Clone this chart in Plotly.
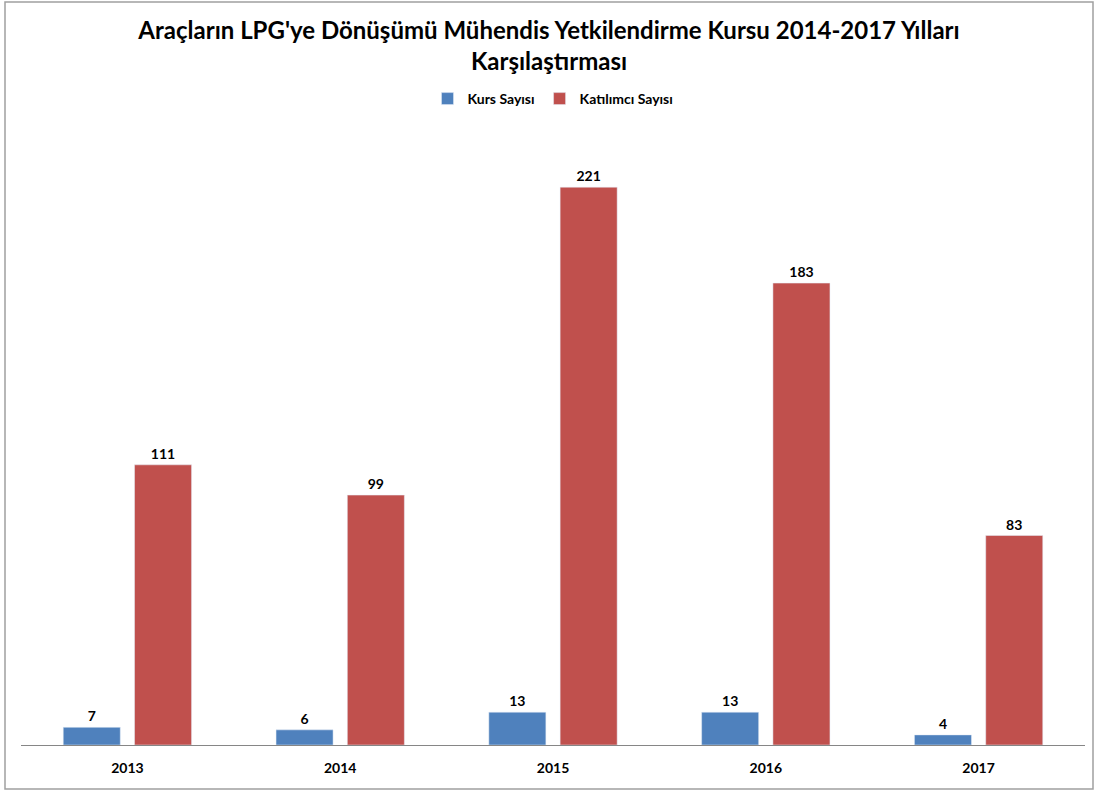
import plotly.graph_objects as go

years = ["2013", "2014", "2015", "2016", "2017"]
kurs_sayisi = [7, 6, 13, 13, 4]
katilimci_sayisi = [111, 99, 221, 183, 83]

W, H = 1098, 791
L, R, T, B = 21, 13, 114, 46
pw, ph = W - L - R, H - T - B

font_family = "Lato, 'Open Sans', sans-serif"

fig = go.Figure()
fig.add_trace(go.Bar(
    x=years, y=kurs_sayisi, name="Kurs Sayısı",
    marker_color="#4F81BD",
    text=kurs_sayisi, textposition="outside", cliponaxis=False,
    textfont=dict(size=14, color="black", family=font_family, weight="bold"),
))
fig.add_trace(go.Bar(
    x=years, y=katilimci_sayisi, name="Katılımcı Sayısı",
    marker_color="#C0504D",
    text=katilimci_sayisi, textposition="outside", cliponaxis=False,
    textfont=dict(size=14, color="black", family=font_family, weight="bold"),
))

def px_x(x):
    return (x - L) / pw

def px_y(y):
    return (H - B - y) / ph

fig.update_layout(
    width=W, height=H,
    margin=dict(l=L, r=R, t=T, b=B, autoexpand=False),
    paper_bgcolor="white", plot_bgcolor="white",
    barmode="group", bargap=0.33, bargroupgap=0.2,
    title=dict(
        text="Araçların LPG'ye Dönüşümü Mühendis Yetkilendirme Kursu 2014-2017 Yılları<br>Karşılaştırması",
        x=0.5, xanchor="center", y=1 - 39 / H, yanchor="middle",
        font=dict(size=24, color="black", family=font_family, weight="bold"),
        automargin=False,
    ),
    legend=dict(
        orientation="h", x=0.5, xanchor="center", y=1 - 99 / H, yanchor="middle",
        yref="container",
        font=dict(size=14, color="black", family=font_family, weight="bold"),
        itemwidth=30, traceorder="normal",
    ),
    xaxis=dict(
        showline=True, linecolor="#868686", linewidth=1,
        ticks="", showgrid=False, automargin=False,
        tickfont=dict(size=14, color="black", family=font_family, weight="bold"),
        ticklabelstandoff=10,
    ),
    yaxis=dict(
        range=[0, 250], visible=False, showgrid=False, zeroline=False,
        automargin=False,
    ),
    shapes=[dict(
        type="rect", xref="paper", yref="paper",
        x0=px_x(5), x1=px_x(1093), y0=px_y(789), y1=px_y(2),
        line=dict(color="#A0A0A0", width=1.5), fillcolor="rgba(0,0,0,0)",
    )],
)

fig.write_html(
    "out.html",
    config={"displayModeBar": False},
    post_script="document.body.style.margin='0';document.body.style.padding='0';",
)
